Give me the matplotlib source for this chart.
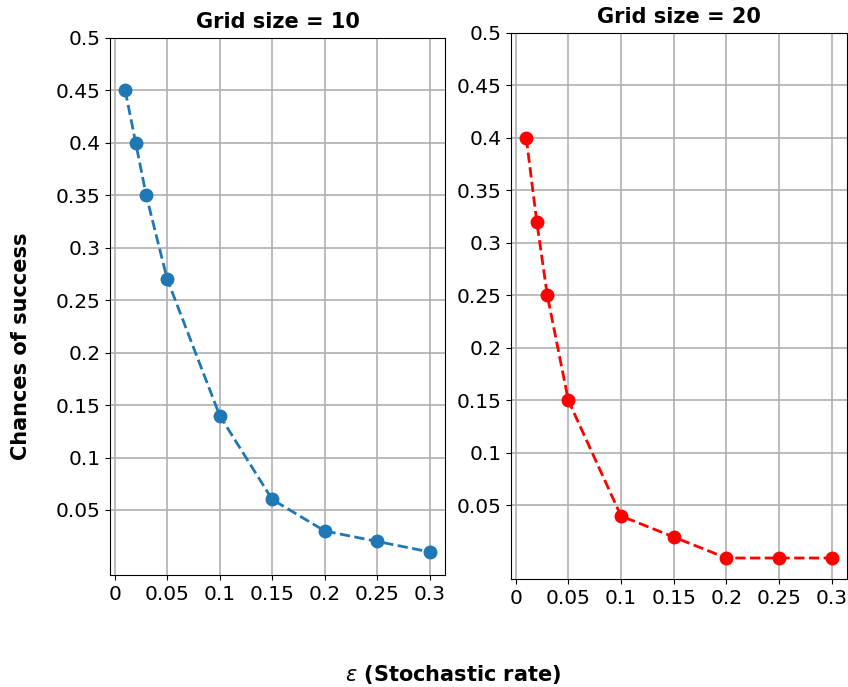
import matplotlib.pyplot as plt

eps = [0.01, 0.02, 0.03, 0.05, 0.1, 0.15, 0.2, 0.25, 0.3]
success_10 = [0.45, 0.4, 0.35, 0.27, 0.14, 0.06, 0.03, 0.02, 0.01]
success_20 = [0.4, 0.32, 0.25, 0.15, 0.04, 0.02, 0.0, 0.0, 0.0]

xticks = [0, 0.05, 0.1, 0.15, 0.2, 0.25, 0.3]
yticks = [0.05, 0.1, 0.15, 0.2, 0.25, 0.3, 0.35, 0.4, 0.45, 0.5]

fig = plt.figure(figsize=(8.48, 6.87), dpi=100)
ax1 = fig.add_axes([0.1297, 0.163, 0.395, 0.7817])
ax2 = fig.add_axes([0.6026, 0.1572, 0.396, 0.7948])

for ax, y, color, title in [(ax1, success_10, '#1f77b4', 'Grid size = 10'),
                            (ax2, success_20, 'red', 'Grid size = 20')]:
    ax.plot(eps, y, '--o', color=color, linewidth=2, markersize=9)
    ax.set_xticks(xticks)
    ax.set_xticklabels([str(t) for t in xticks], fontsize=14.5)
    ax.set_yticks(yticks)
    ax.set_yticklabels([str(t) for t in yticks], fontsize=14.5)
    ax.set_ylim(top=0.5)
    ax.grid(True, color='#b0b0b0', linewidth=1.2)
    ax.set_title(title, fontsize=15, fontweight='bold', pad=7)

fig.text(21 / 848, 1 - 346 / 687, 'Chances of success', fontsize=15,
         fontweight='bold', rotation=90, ha='center', va='center')
fig.text(453 / 848, 1 - 674 / 687, r'$\varepsilon$ (Stochastic rate)', fontsize=15,
         fontweight='bold', ha='center', va='center')

plt.savefig('out.png', dpi=100)
